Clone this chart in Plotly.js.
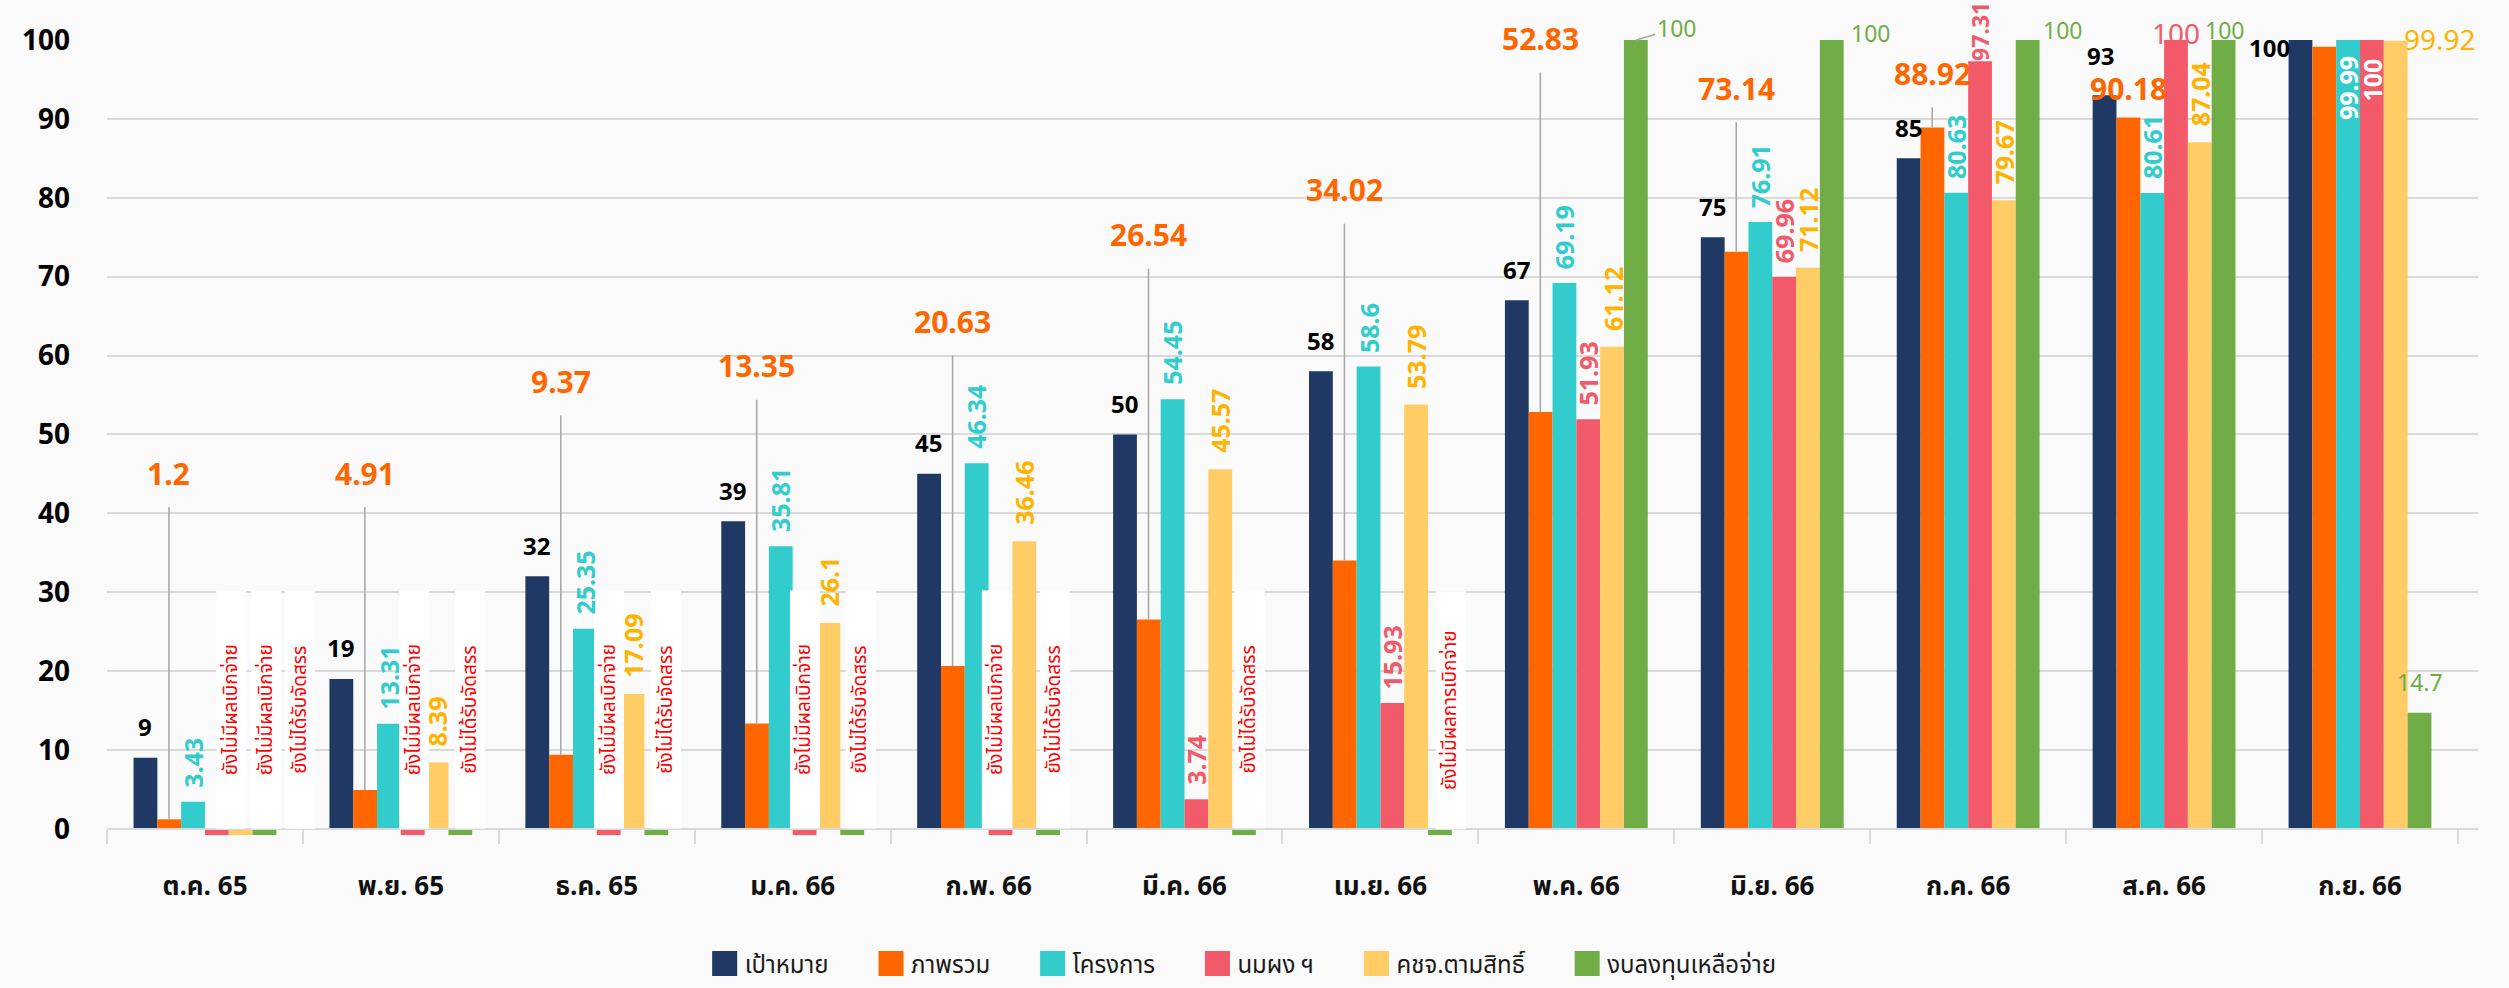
<!DOCTYPE html>
<html>
<head>
<meta charset="utf-8">
<script src="https://cdn.plot.ly/plotly-3.0.1.min.js"></script>
<style>html,body{margin:0;padding:0;background:#FAFAFA;overflow:hidden;}</style>
</head>
<body>
<div id="chart" style="width:2509px;height:988px;"></div>
<script>
// ---------------- data ----------------
const months = ['ต.ค. 65','พ.ย. 65','ธ.ค. 65','ม.ค. 66','ก.พ. 66','มี.ค. 66','เม.ย. 66','พ.ค. 66','มิ.ย. 66','ก.ค. 66','ส.ค. 66','ก.ย. 66'];
const seriesNames = ['เป้าหมาย','ภาพรวม','โครงการ','นมผง ฯ','คชจ.ตามสิทธิ์','งบลงทุนเหลือจ่าย'];
const target     = [9, 19, 32, 39, 45, 50, 58, 67, 75, 85, 93, 100];
const overall    = [1.2, 4.91, 9.37, 13.35, 20.63, 26.54, 34.02, 52.83, 73.14, 88.92, 90.18, 99.13];
const project    = [3.43, 13.31, 25.35, 35.81, 46.34, 54.45, 58.6, 69.19, 76.91, 80.63, 80.61, 99.99];
const milk       = [-0.8, -0.8, -0.8, -0.8, -0.8, 3.74, 15.93, 51.93, 69.96, 97.31, 100, 100];
const expense    = [-0.8, 8.39, 17.09, 26.1, 36.46, 45.57, 53.79, 61.12, 71.12, 79.67, 87.04, 99.92];
const investment = [-0.8, -0.8, -0.8, -0.8, -0.8, -0.8, -0.8, 100, 100, 100, 100, 14.7];

// placeholder notes (month index, series index, text)
const noteMonth  = [0, 0, 0, 1, 1, 2, 2, 3, 3, 4, 4, 5, 6];
const noteSeries = [3, 4, 5, 3, 5, 3, 5, 3, 5, 3, 5, 5, 5];
const noteText   = ['ยังไม่มีผลเบิกจ่าย','ยังไม่มีผลเบิกจ่าย','ยังไม่ได้รับจัดสรร',
                    'ยังไม่มีผลเบิกจ่าย','ยังไม่ได้รับจัดสรร',
                    'ยังไม่มีผลเบิกจ่าย','ยังไม่ได้รับจัดสรร',
                    'ยังไม่มีผลเบิกจ่าย','ยังไม่ได้รับจัดสรร',
                    'ยังไม่มีผลเบิกจ่าย','ยังไม่ได้รับจัดสรร',
                    'ยังไม่ได้รับจัดสรร',
                    'ยังไม่มีผลการเบิกจ่าย'];

// ---------------- layout / style (not data) ----------------
const THAI = "'Noto Sans Thai','Noto Sans Thai Looped','Noto Sans',sans-serif";
const NARROW = "'Liberation Sans Narrow','Arial Narrow','Noto Sans',sans-serif";
const SANS = "'Noto Sans','Liberation Sans',sans-serif";
const COLORS = ['#203864','#FF6600','#33CCCC','#F25A69','#FFCC66','#70AD47'];
const LABEL_COLORS = ['#000000','#FF6600','#33CCCC','#F25A69','#FFB300','#70AD47'];

const W = 2509, H = 988, ML = 107, MR = 31, MT = 40, MB = 134;
const YMIN = -3.2, YMAX = 100, BARGAP = 0.271;
const plotW = W - ML - MR;
const catW = plotW / months.length;
const barW = catW * (1 - BARGAP) / 6;
const slot = s => (s - 2.5) * barW;

// orange label heights (data units) and whether a leader line is drawn
const overallLabelY = [45.1, 45.1, 56.7, 58.7, 64.3, 75.3, 81.0, 100.2, 93.9, 95.8, 93.9, 100.8];
const overallLeader = [1, 1, 1, 1, 1, 1, 1, 1, 1, 1, 0, 0];
// pixel tweaks for placeholder boxes
const noteDx = [14, 25, 35, 1, 9, 0, 9, 0, 8, -4, 6, 5, 10];

const series = [target, overall, project, milk, expense, investment];
const NBSP = '\u00A0\u00A0\u00A0\u00A0\u00A0\u00A0';

const traces = series.map((vals, i) => ({
  type: 'bar', name: seriesNames[i] + NBSP, x: months, y: vals,
  marker: {color: COLORS[i]}, hoverinfo: 'skip'
}));

const ann = [];
noteMonth.forEach((m, k) => {
  ann.push({
    x: months[m], y: 0, xref: 'x', yref: 'y', showarrow: false,
    text: noteText[k], textangle: -90, width: 238, height: 30,
    bgcolor: '#FFFFFF', borderpad: 0, borderwidth: 0,
    xanchor: 'center', yanchor: 'bottom',
    xshift: slot(noteSeries[k]) + noteDx[k],
    font: {family: THAI, size: 19, color: '#FF0000'}
  });
});

const ROT_FONT = (c) => ({family: NARROW, size: 25, color: c, weight: 700});

function rotLabel(i, j, extra) {
  return Object.assign({
    x: months[j], y: series[i][j], xref: 'x', yref: 'y', showarrow: false,
    text: String(series[i][j]), textangle: -90,
    xanchor: 'center', yanchor: 'bottom', xshift: slot(i), yshift: 12,
    font: ROT_FONT(LABEL_COLORS[i])
  }, extra || {});
}
function horLabel(i, j, extra) {
  return Object.assign({
    x: months[j], y: series[i][j], xref: 'x', yref: 'y', showarrow: false,
    text: String(series[i][j]),
    xanchor: 'center', yanchor: 'middle', xshift: slot(i), yshift: 31,
    font: {family: SANS, size: 24, color: LABEL_COLORS[i], weight: 700}
  }, extra || {});
}

months.forEach((m, j) => {
  if (j === 11) ann.push(horLabel(0, j, {xshift: slot(0) - 30, yshift: -7}));
  else if (j === 10) ann.push(horLabel(0, j, {xshift: slot(0) - 4, yshift: 40}));
  else ann.push(horLabel(0, j));

  const oFont = {family: SANS, size: 30, color: LABEL_COLORS[1], weight: 700};
  if (overallLeader[j]) {
    ann.push({
      x: m, y: overall[j], xref: 'x', yref: 'y', text: String(overall[j]),
      showarrow: true, axref: 'pixel', ax: 0, ayref: 'y', ay: overallLabelY[j],
      arrowhead: 0, arrowwidth: 1.5, arrowcolor: '#A6A6A6', startstandoff: 12, standoff: 0,
      xshift: slot(1), font: oFont
    });
  } else {
    ann.push({x: m, y: overallLabelY[j], xref: 'x', yref: 'y', showarrow: false,
      text: String(overall[j]), xshift: slot(1), font: oFont});
  }

  if (j === 11) ann.push(rotLabel(2, j, {yanchor: 'top', yshift: -14, font: ROT_FONT('#FFFFFF')}));
  else ann.push(rotLabel(2, j));

  if (milk[j] > 0) {
    if (j === 9) ann.push(rotLabel(3, j, {yshift: -2, font: {family: NARROW, size: 23, color: LABEL_COLORS[3], weight: 700}}));
    else if (j === 10) ann.push(rotLabel(3, j, {textangle: 0, yanchor: 'middle', yshift: 7, font: {family: SANS, size: 28, color: LABEL_COLORS[3]}}));
    else if (j === 11) ann.push(rotLabel(3, j, {yanchor: 'top', yshift: -16, font: ROT_FONT('#FFFFFF')}));
    else ann.push(rotLabel(3, j));
  }

  if (expense[j] > 0) {
    if (j === 11) ann.push(rotLabel(4, j, {textangle: 0, yanchor: 'middle', xshift: slot(4) + 44, yshift: 2, font: {family: SANS, size: 28, color: LABEL_COLORS[4]}}));
    else ann.push(rotLabel(4, j, {yshift: 14}));
  }

  if (investment[j] > 0) {
    const gFont = {family: SANS, size: 23, color: LABEL_COLORS[5]};
    const gdx = {7: 40, 8: 38, 9: 34, 10: 0, 11: 0}[j];
    const gdy = {7: 10, 8: 7, 9: 10, 10: 10, 11: 31}[j];
    if (j === 7) {
      ann.push({x: m, y: investment[j], xref: 'x', yref: 'y', text: String(investment[j]),
        showarrow: true, ax: gdx, ay: -gdy - 2, arrowhead: 0, arrowwidth: 1.5, arrowcolor: '#A6A6A6',
        xshift: slot(5), font: gFont});
    } else {
      ann.push(horLabel(5, j, {xshift: slot(5) + gdx, yshift: gdy, font: gFont}));
    }
  }
});

const layout = {
  width: W, height: H,
  margin: {l: ML, r: MR, t: MT, b: MB, pad: 0, autoexpand: false},
  paper_bgcolor: '#FAFAFA', plot_bgcolor: '#FAFAFA',
  barmode: 'group', bargap: BARGAP, bargroupgap: 0,
  showlegend: true,
  legend: {orientation: 'h', x: 0.487, xanchor: 'center', y: -0.135, yanchor: 'middle',
           font: {family: THAI, size: 24, color: '#1A1A1A'}, bgcolor: 'rgba(0,0,0,0)', traceorder: 'normal'},
  xaxis: {
    type: 'category', anchor: 'free', position: (0 - YMIN) / (YMAX - YMIN), automargin: false,
    showline: true, linecolor: '#D9D9D9', linewidth: 2,
    ticks: 'outside', tickson: 'boundaries', ticklen: 14, tickwidth: 2, tickcolor: '#D9D9D9',
    showgrid: false, ticklabelstandoff: 34,
    tickfont: {family: THAI, size: 26, color: '#111111', weight: 700}
  },
  yaxis: {
    range: [YMIN, YMAX], tick0: 0, dtick: 10, showgrid: true, gridcolor: '#D9D9D9', gridwidth: 2,
    zeroline: false, showline: false, ticks: '', ticklabelstandoff: 36, automargin: false,
    tickfont: {family: NARROW, size: 28, color: '#000000', weight: 700}
  },
  annotations: ann
};

Plotly.newPlot('chart', traces, layout, {staticPlot: true}).then(() => {
  document.querySelectorAll('#chart .legend .legendpoints path').forEach(p => {
    p.setAttribute('d', 'M12.5,12.5H-12.5V-12.5H12.5Z');
  });
});
</script>
</body>
</html>
